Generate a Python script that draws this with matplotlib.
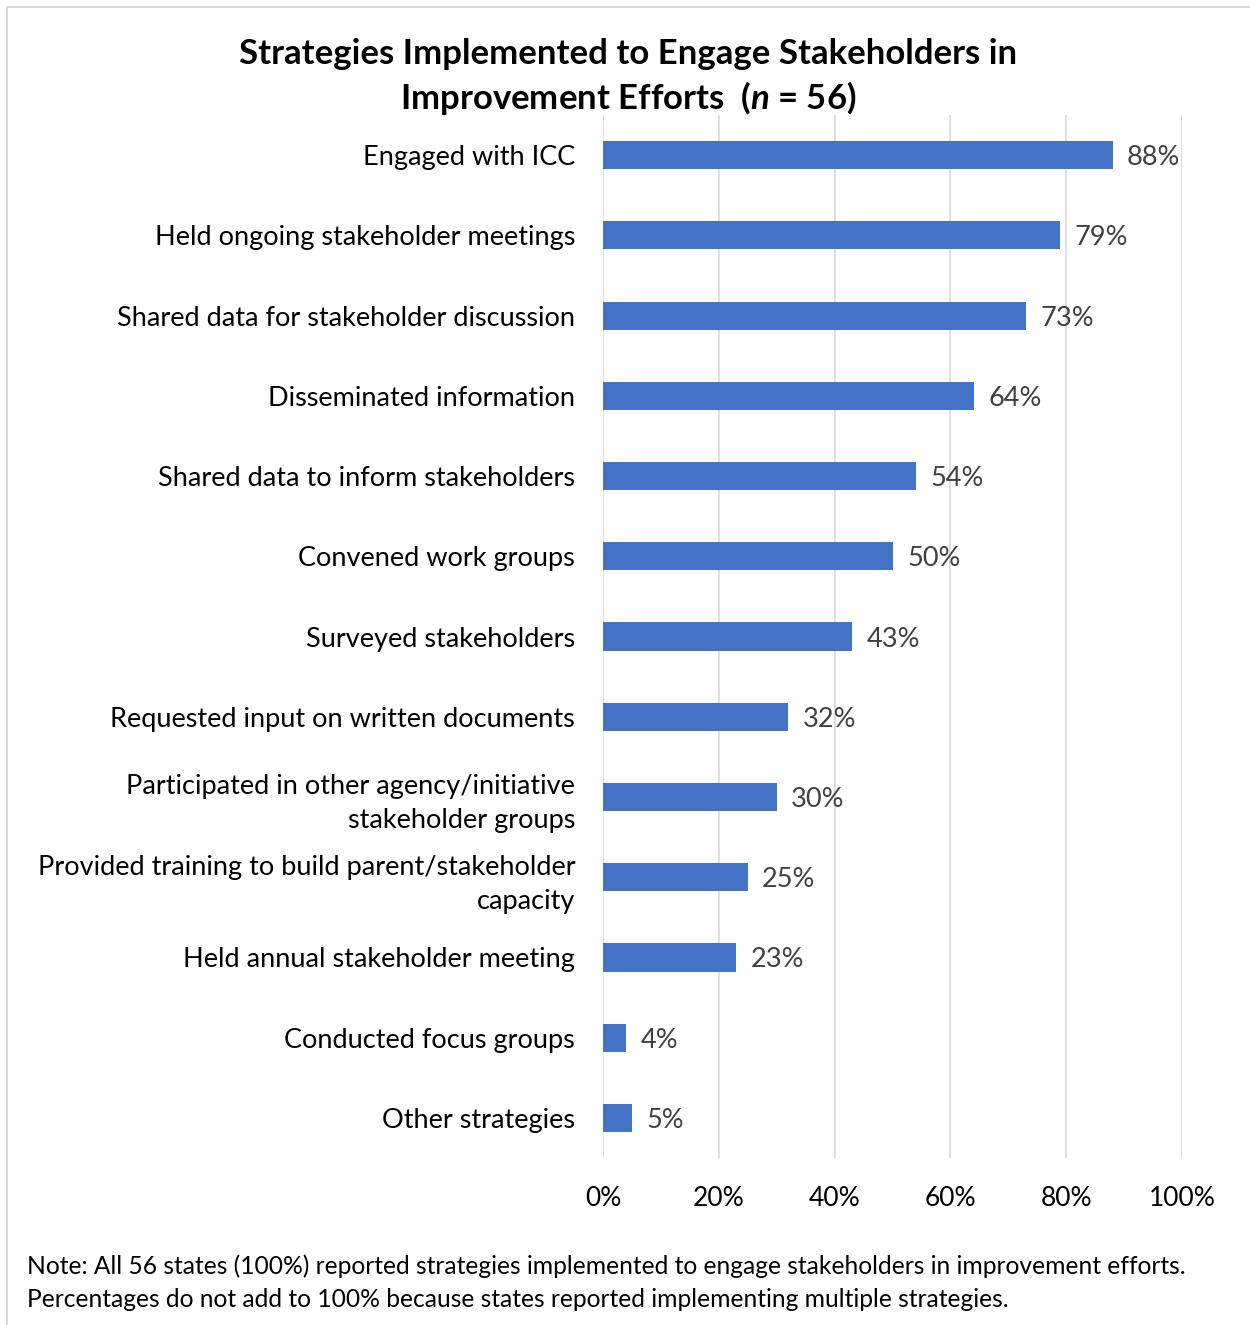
import numpy as np
import matplotlib
matplotlib.use("Agg")
import matplotlib.pyplot as plt
from matplotlib.lines import Line2D

plt.rcParams['font.family'] = ['Lato', 'DejaVu Sans']
plt.rcParams['mathtext.fontset'] = 'custom'
plt.rcParams['mathtext.it'] = 'Lato:bold:italic'
plt.rcParams['mathtext.rm'] = 'Lato:bold'

# ---- datos ----
categorias = [
    "Engaged with ICC",
    "Held ongoing stakeholder meetings",
    "Shared data for stakeholder discussion",
    "Disseminated information",
    "Shared data to inform stakeholders",
    "Convened work groups",
    "Surveyed stakeholders",
    "Requested input on written documents",
    "Participated in other agency/initiative\nstakeholder groups",
    "Provided training to build parent/stakeholder\ncapacity",
    "Held annual stakeholder meeting",
    "Conducted focus groups",
    "Other strategies",
]
porcentajes = [88, 79, 73, 64, 54, 50, 43, 32, 30, 25, 23, 4, 5]
ticks_x = [0, 20, 40, 60, 80, 100]
etiquetas_x = ["0%", "20%", "40%", "60%", "80%", "100%"]

AZUL = "#4472C4"
GRIS_GRID = "#d9d9d9"
TAM = 19.5

fig = plt.figure(figsize=(12.5, 13.25), dpi=100)
ax = fig.add_axes([0.4824, 0.126, 0.9456 - 0.4824, 0.9132 - 0.126])

y = np.arange(len(categorias))
ax.barh(y, porcentajes, height=0.35, color=AZUL, zorder=3)

for yi, v in zip(y, porcentajes):
    ax.text(v + 2.5, yi, f"{v}%", va="center_baseline", ha="left",
            fontsize=TAM, color="#404040")

ax.set_ylim(len(categorias) - 0.5, -0.5)
ax.set_xlim(0, 100)
ax.set_yticks(y)
ax.set_yticklabels(categorias, fontsize=TAM, color="black", ha="right",
                   multialignment="right", linespacing=1.45)
ax.set_xticks(ticks_x)
ax.set_xticklabels(etiquetas_x, fontsize=19, color="black")
ax.tick_params(axis="y", length=0, pad=20)
ax.tick_params(axis="x", length=0, pad=20)
ax.grid(axis="x", color=GRIS_GRID, lw=1.2, zorder=0)
for s in ax.spines.values():
    s.set_visible(False)

fig.text(0.5025, 0.959, "Strategies Implemented to Engage Stakeholders in",
         ha="center", va="center", fontsize=25, fontweight="bold")
fig.text(0.5025, 0.926, "Improvement Efforts  ($n$ = 56)",
         ha="center", va="center", fontsize=25, fontweight="bold")

fig.text(0.0216, 0.0445,
         "Note: All 56 states (100%) reported strategies implemented to engage stakeholders in improvement efforts.",
         ha="left", va="center", fontsize=17.7)
fig.text(0.0216, 0.0195,
         "Percentages do not add to 100% because states reported implementing multiple strategies.",
         ha="left", va="center", fontsize=17.7)

# marco gris (izquierda y arriba)
fig.add_artist(Line2D([0.0056, 0.0056], [0, 0.9947], color="#d9d9d9", lw=1.5,
                      transform=fig.transFigure))
fig.add_artist(Line2D([0.0056, 1], [0.9947, 0.9947], color="#d9d9d9", lw=1.5,
                      transform=fig.transFigure))

fig.savefig("out.png", dpi=100)
